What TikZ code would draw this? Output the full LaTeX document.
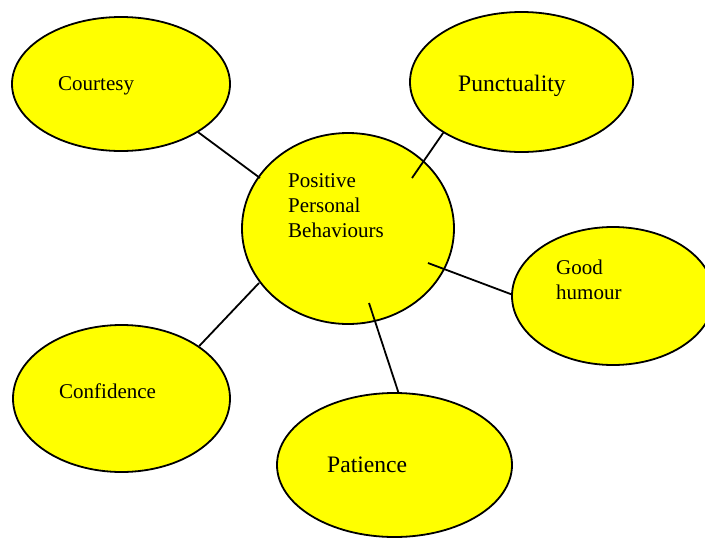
\documentclass[tikz,border=0pt]{standalone}
\usepackage{fontspec}
\setmainfont{Liberation Serif}
\usetikzlibrary{shapes.geometric}
\definecolor{bubble}{RGB}{255,255,0}
\begin{document}
\begin{tikzpicture}[x=1pt,y=-1pt,
  trait/.style={ellipse,draw,line width=1.8pt,fill=bubble,inner sep=0pt},
  word/.style={anchor=base west,inner sep=0pt,align=left,font=\fontsize{21}{25}\selectfont},
  bigword/.style={word,font=\fontsize{23.6}{28}\selectfont},
  link/.style={line width=1.8pt}]
  \useasboundingbox (0,0) rectangle (705,539);
  \clip (0,0) rectangle (705,539);

  \node[trait,minimum width=212pt,minimum height=191pt] (ppb) at (348,228.5) {};
  \node[trait,minimum width=218pt,minimum height=134pt] (courtesy) at (121,84) {};
  \node[trait,minimum width=223pt,minimum height=140pt] (punct) at (521.5,82) {};
  \node[trait,minimum width=202pt,minimum height=138pt] (humour) at (613,296) {};
  \node[trait,minimum width=217pt,minimum height=147pt] (confid) at (121.5,398.5) {};
  \node[trait,minimum width=235pt,minimum height=144pt] (patience) at (394.5,465) {};

  % multi-line labels sit on their last baseline
  \node[word] (ppb-t) at (288,237) {Positive\\Personal\\Behaviours};
  \node[word] (courtesy-t) at (58,90) {Courtesy};
  \node[bigword] (punct-t) at (458,91) {Punctuality};
  \node[word] (humour-t) at (556,299) {Good\\humour};
  \node[word] (confid-t) at (59,398) {Confidence};
  \node[bigword] (patience-t) at (327,472) {Patience};

  \coordinate (in1) at (260,178);
  \coordinate (in2) at (412,178);
  \coordinate (in3) at (428,263);
  \coordinate (in4) at (259,283);
  \coordinate (in5) at (369,303);

  \draw[link] (courtesy.-32) -- (in1);
  \draw[link] (punct.-147.5) -- (in2);
  \draw[link] (humour.179) -- (in3);
  \draw[link] (confid.34.6) -- (in4);
  \draw[link] (patience.87.3) -- (in5);
\end{tikzpicture}
\end{document}
